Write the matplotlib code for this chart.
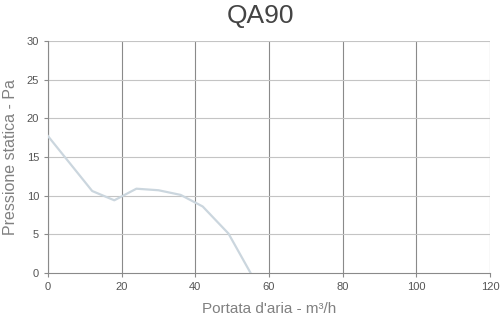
import matplotlib
matplotlib.use("Agg")
import matplotlib.pyplot as plt

portata = [0, 12, 18, 24, 30, 36, 42, 49, 55]
pressione = [17.7, 10.6, 9.4, 10.9, 10.7, 10.1, 8.6, 5.1, 0.0]
x_ticks = [0, 20, 40, 60, 80, 100, 120]
y_ticks = [0, 5, 10, 15, 20, 25, 30]

plt.rcParams["font.family"] = ["Liberation Sans", "DejaVu Sans"]

fig = plt.figure(figsize=(5, 3.19), dpi=100)
ax = fig.add_axes([0.096, 0.1442, 0.884, 0.7273])

for x in x_ticks:
    ax.axvline(x, color="#8a8a8a", lw=0.8, zorder=1)
for y in y_ticks[1:]:
    ax.axhline(y, color="#c4c4c4", lw=0.8, zorder=1)

ax.plot(portata, pressione, color="#cbd6de", lw=1.6, zorder=3)

ax.set_xlim(0, 120)
ax.set_ylim(0, 30)
ax.set_xticks(x_ticks)
ax.set_yticks(y_ticks)
for s in ["top", "right"]:
    ax.spines[s].set_visible(False)
ax.spines["left"].set_color("#8a8a8a")
ax.spines["bottom"].set_color("#8a8a8a")
ax.tick_params(axis="both", colors="#8a8a8a", labelcolor="#555555", labelsize=8, length=3, width=0.8)

ax.set_xlabel("Portata d'aria - m³/h", fontsize=11, color="#808080", labelpad=7)
ax.set_ylabel("Pressione statica - Pa", fontsize=11.5, color="#808080", labelpad=6)
fig.text(0.52, 0.95, "QA90", ha="center", va="center", fontsize=19, color="#444444")

fig.savefig("out.png", dpi=100)
